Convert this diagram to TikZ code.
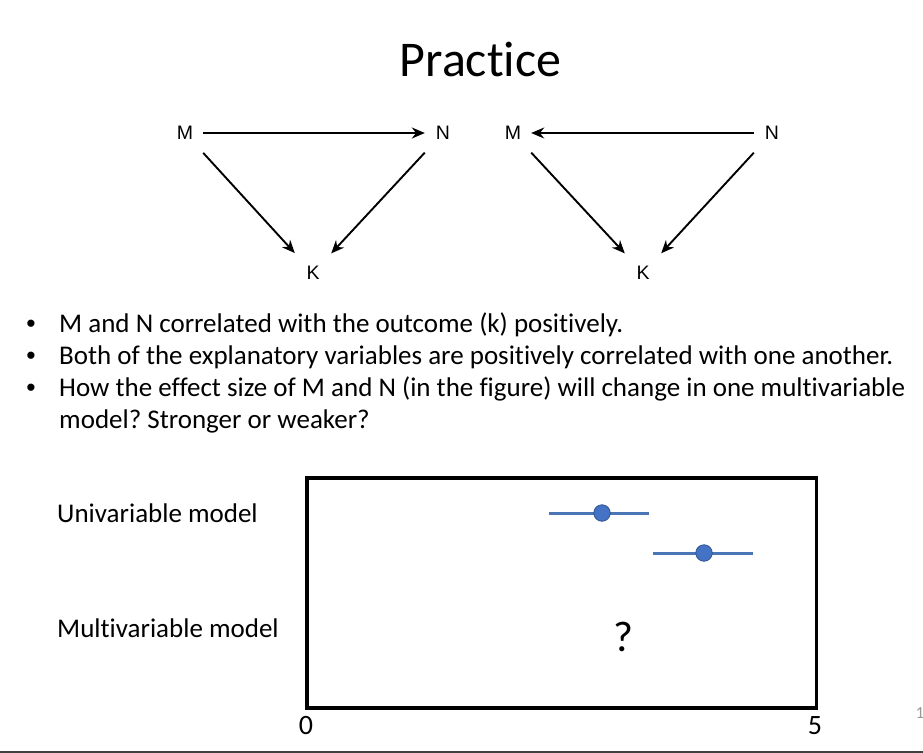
\documentclass[tikz,border=0pt]{standalone}
\usepackage{fontspec}
\setmainfont{Carlito}[Ligatures={NoCommon,NoContextual}]
\newfontfamily\arialfont{Liberation Sans}
\usetikzlibrary{arrows.meta}
\definecolor{barblue}{HTML}{4A76B6}
\definecolor{dotblue}{HTML}{4472C4}
\definecolor{dotedge}{HTML}{2F528F}
\frenchspacing

\begin{document}
\begin{tikzpicture}[x=1pt, y=-1pt,
    var/.style={inner sep=0pt, minimum width=36pt, minimum height=40pt,
      font=\arialfont\fontsize{19.5pt}{22pt}\selectfont},
    link/.style={line width=1.9pt, -{Stealth[length=13pt, width=11pt]}},
    body/.style={inner sep=0pt, anchor=base west, font=\fontsize{27pt}{32pt}\selectfont},
    bullet/.style={inner sep=0pt, anchor=base, font=\arialfont\fontsize{26.5pt}{32pt}\selectfont},
    tick/.style={inner sep=0pt, font=\fontsize{28pt}{32pt}\selectfont},
    bar/.style={line width=3pt, draw=barblue},
    est/.style={circle, fill=dotblue, draw=dotedge, line width=0.8pt,
      minimum size=16.5pt, inner sep=0pt}]
  \useasboundingbox (0,0) rectangle (923,752);

  \node[inner sep=0pt, anchor=base, font=\fontsize{50pt}{60pt}\selectfont] (title) at (480.5,77) {Practice};

  \node[var] (M1) at (185,133) {M};
  \node[var] (N1) at (443,133) {N};
  \node[var] (K1) at (313,273) {K};
  \path[link] (M1) edge (N1);
  \path[link] (M1) edge (K1);
  \path[link] (N1) edge (K1);

  \node[var] (M2) at (513,133) {M};
  \node[var] (N2) at (772,133) {N};
  \node[var] (K2) at (643,273) {K};
  \path[link] (N2) edge (M2);
  \path[link] (M2) edge (K2);
  \path[link] (N2) edge (K2);

  \node[bullet] (b1) at (31,332) {•};
  \node[bullet] (b2) at (31,364) {•};
  \node[bullet] (b3) at (31,396) {•};
  \node[body] (t1) at (59,332) {M and N correlated with the outcome (k) positively.};
  \node[body] (t2) at (59,364) {Both of the explanatory variables are positively correlated with one another.};
  \node[body] (t3) at (59,396) {How the effect size of M and N (in the figure) will change in one multivariable};
  \node[body] (t4) at (59,428) {model? Stronger or weaker?};

  \node[draw, line width=3.3pt, minimum width=509.5pt, minimum height=230pt, inner sep=0pt] (frame) at (561.75,593) {};
  \node[body] (uni) at (57,522) {Univariable model};
  \node[body] (multi) at (57,637) {Multivariable model};
  \node[tick] (zero) at (306,726) {0};
  \node[tick] (five) at (815,726) {5};

  \coordinate (lo1) at (549,513);
  \coordinate (hi1) at (649,513);
  \coordinate (lo2) at (653,553);
  \coordinate (hi2) at (753,553);
  \draw[bar] (lo1) -- (hi1);
  \draw[bar] (lo2) -- (hi2);
  \node[est] (pt1) at (602,513) {};
  \node[est] (pt2) at (704,553) {};
  \node[inner sep=0pt, font=\fontsize{43pt}{50pt}\selectfont] (ask) at (623,637) {?};

  \node[inner sep=0pt, text=black!40, font=\fontsize{17pt}{20pt}\selectfont] (pgnum) at (920,713) {1};
  \draw[line width=2pt, black!75] (0,751.5) -- (923,751.5);
\end{tikzpicture}
\end{document}
